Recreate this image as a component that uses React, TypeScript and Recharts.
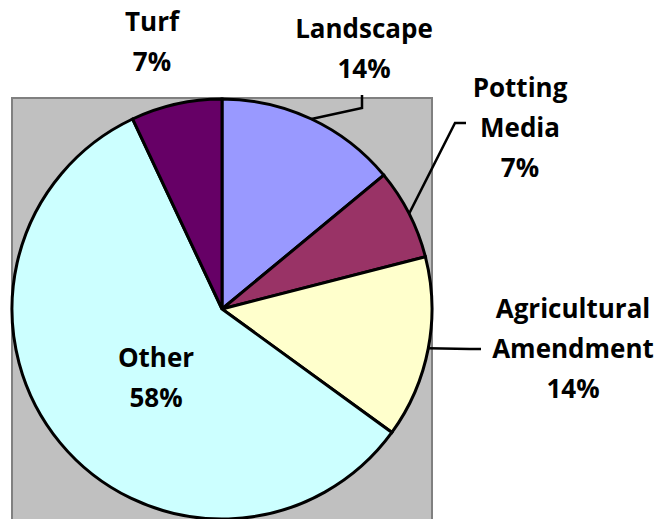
import React from "react";
import { PieChart, Pie, Cell } from "recharts";

const categories = ["Landscape", "Potting Media", "Agricultural Amendment", "Other", "Turf"];
const shares = [14, 7, 14, 58, 7];
const colors = ["#9999FF", "#993366", "#FFFFCC", "#CCFFFF", "#660066"];

// label layout: text lines, centre x, first line centre y, leader elbow points
const labelLayout: Record<string, { lines: string[]; x: number; y: number; leader?: number[][] }> = {
  Landscape: { lines: ["Landscape"], x: 364, y: 28, leader: [[362, 95], [362, 108]] },
  "Potting Media": { lines: ["Potting", "Media"], x: 520, y: 87, leader: [[466, 123], [455, 123]] },
  "Agricultural Amendment": { lines: ["Agricultural", "Amendment"], x: 573, y: 308, leader: [[481, 349], [470, 349]] },
  Other: { lines: ["Other"], x: 156, y: 357 },
  Turf: { lines: ["Turf"], x: 152, y: 21 },
};

const data = categories.map((name, i) => ({ name, value: shares[i] }));

const FONT = "'Open Sans', sans-serif";
const LINE = 40;

const renderLabel = (props: any) => {
  const { cx, cy, midAngle, outerRadius, index } = props;
  const name = categories[index];
  const cfg = labelLayout[name];
  const lines = [...cfg.lines, `${shares[index]}%`];
  const RAD = Math.PI / 180;
  const ex = cx + outerRadius * Math.cos(-midAngle * RAD);
  const ey = cy + outerRadius * Math.sin(-midAngle * RAD);
  let path = "";
  if (cfg.leader) {
    const pts = [...cfg.leader, [ex, ey]];
    path = pts.map((p, i) => `${i === 0 ? "M" : "L"}${p[0]},${p[1]}`).join(" ");
  }
  return (
    <g key={`lbl-${index}`}>
      {path && <path d={path} stroke="#000" strokeWidth={2.5} fill="none" />}
      {lines.map((t, i) => (
        <text
          key={i}
          x={cfg.x}
          y={cfg.y + i * LINE}
          textAnchor="middle"
          dominantBaseline="central"
          fontFamily={FONT}
          fontWeight={700}
          fontSize={26}
          fill="#000"
        >
          {t}
        </text>
      ))}
    </g>
  );
};

export default function App() {
  return (
    <div style={{ position: "absolute", left: 0, top: 0, width: 660, height: 519, background: "#fff", overflow: "hidden" }}>
      <div
        style={{
          position: "absolute",
          left: 11,
          top: 97,
          width: 418,
          height: 440,
          background: "#C0C0C0",
          border: "2px solid #808080",
        }}
      />
      <div style={{ position: "absolute", left: 0, top: 0 }}>
        <PieChart width={660} height={519} margin={{ top: 0, right: 0, bottom: 0, left: 0 }}>
          <Pie
            data={data}
            dataKey="value"
            nameKey="name"
            cx={222}
            cy={309}
            outerRadius={210}
            startAngle={90}
            endAngle={-270}
            stroke="#000"
            strokeWidth={3}
            label={renderLabel}
            labelLine={false}
            isAnimationActive={false}
          >
            {data.map((d, i) => (
              <Cell key={d.name} fill={colors[i]} />
            ))}
          </Pie>
        </PieChart>
      </div>
    </div>
  );
}
